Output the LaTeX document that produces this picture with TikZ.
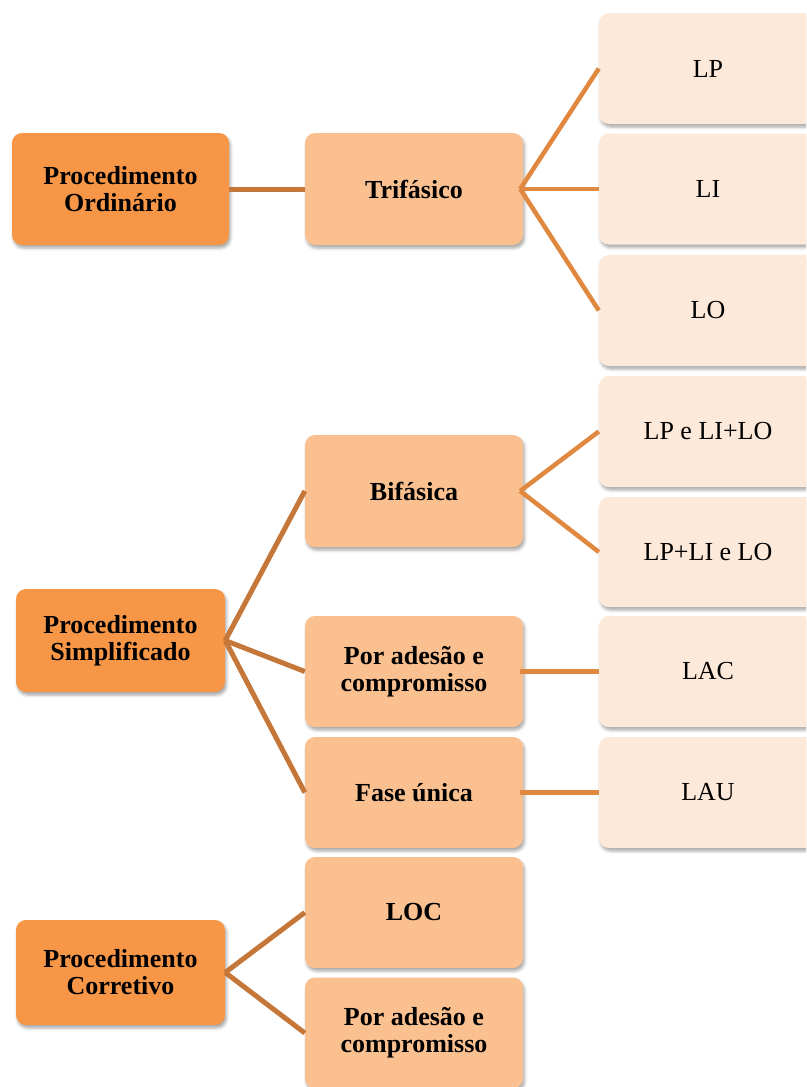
\documentclass[tikz,border=0pt]{standalone}
\usepackage{fontspec}
\setmainfont{Liberation Serif}
\usetikzlibrary{shadows.blur}
\definecolor{lvA}{HTML}{F79646}
\definecolor{lvB}{HTML}{FAC08F}
\definecolor{lvC}{HTML}{FDE9D9}
\definecolor{lnA}{HTML}{C5773A}
\definecolor{lnB}{HTML}{E0883F}
\tikzset{
  box/.style={rectangle, rounded corners=10pt, inner sep=0pt, align=center,
    font=\fontsize{26}{27}\selectfont, text=black,
    blur shadow={shadow xshift=1.5pt, shadow yshift=-3pt, shadow blur radius=3pt, shadow opacity=35}},
  boxA/.style={box, fill=lvA, font=\fontsize{26}{27}\selectfont\bfseries},
  boxB/.style={box, fill=lvB, font=\fontsize{26}{27}\selectfont\bfseries, minimum width=218pt},
  boxC/.style={box, fill=lvC, minimum width=218pt},
  linkA/.style={draw=lnA, line width=5pt},
  linkB/.style={draw=lnB, line width=4.5pt},
}
\begin{document}
\begin{tikzpicture}[x=1pt,y=-1pt]
\useasboundingbox (0,0) rectangle (806,1087);
\clip (0,0) rectangle (806,1087);
% level 1
\node[boxA, minimum width=217pt, minimum height=112pt] (ord) at (120.5,189) {Procedimento\\Ordinário};
\node[boxA, minimum width=209pt, minimum height=103pt] (simp) at (120.5,640.5) {Procedimento\\Simplificado};
\node[boxA, minimum width=209pt, minimum height=105pt] (corr) at (120.5,972.5) {Procedimento\\Corretivo};
% level 2
\node[boxB, minimum height=112pt] (tri) at (414,189) {Trifásico};
\node[boxB, minimum height=112pt] (bif) at (414,491) {Bifásica};
\node[boxB, minimum height=111pt] (adeA) at (414,671.5) {Por adesão e\\compromisso};
\node[boxB, minimum height=111pt] (fase) at (414,792.5) {Fase única};
\node[boxB, minimum height=111pt] (loc) at (414,912.5) {LOC};
\node[boxB, minimum height=111pt] (adeB) at (414,1033) {Por adesão e\\compromisso};
% level 3
\node[boxC, minimum height=111pt] (lp) at (708,68.5) {LP};
\node[boxC, minimum height=111pt] (li) at (708,189) {LI};
\node[boxC, minimum height=111pt] (lo) at (708,310.5) {LO};
\node[boxC, minimum height=111pt] (lpe) at (708,431.5) {LP e LI+LO};
\node[boxC, minimum height=110pt] (lpli) at (708,552) {LP+LI e LO};
\node[boxC, minimum height=111pt] (lac) at (708,671.5) {LAC};
\node[boxC, minimum height=111pt] (lau) at (708,792.5) {LAU};
% connectors
\draw[linkA] (ord.east) -- (tri.west);
\draw[linkA] (simp.east) -- (bif.west);
\draw[linkA] (simp.east) -- (adeA.west);
\draw[linkA] (simp.east) -- (fase.west);
\draw[linkA] (corr.east) -- (loc.west);
\draw[linkA] (corr.east) -- (adeB.west);
\draw[linkB] ([xshift=-3pt]tri.east) -- (lp.west);
\draw[linkB] ([xshift=-3pt]tri.east) -- (li.west);
\draw[linkB] ([xshift=-3pt]tri.east) -- (lo.west);
\draw[linkB] ([xshift=-3pt]bif.east) -- (lpe.west);
\draw[linkB] ([xshift=-3pt]bif.east) -- (lpli.west);
\draw[linkB] ([xshift=-3pt]adeA.east) -- (lac.west);
\draw[linkB] ([xshift=-3pt]fase.east) -- (lau.west);
\end{tikzpicture}
\end{document}
